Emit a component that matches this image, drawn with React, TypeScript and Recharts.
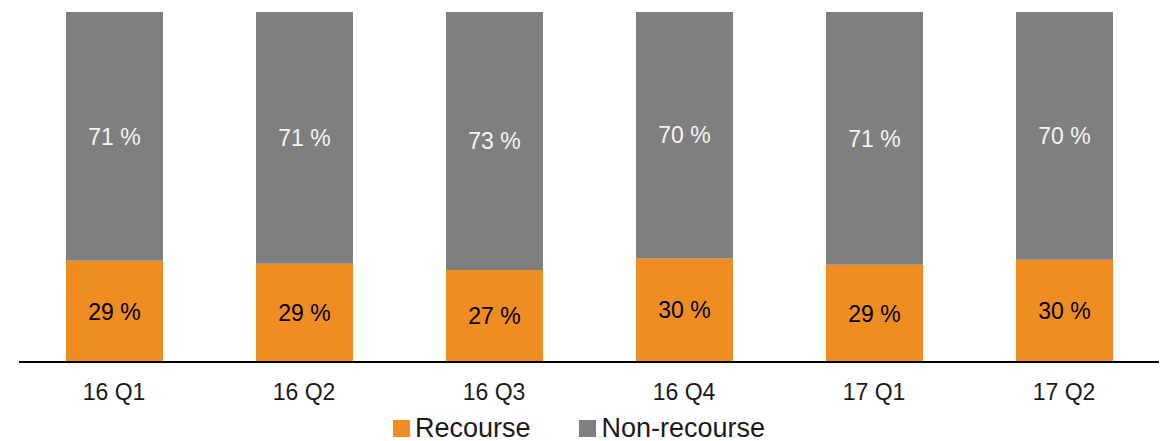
import { Bar, BarChart, LabelList, Legend, XAxis, YAxis } from 'recharts'

const quarters = ['16 Q1', '16 Q2', '16 Q3', '16 Q4', '17 Q1', '17 Q2']
const recourse = [28.9, 28.1, 26.3, 29.6, 27.8, 29.2]
const nonRecourse = [71.1, 71.9, 73.7, 70.4, 72.2, 70.8]
const recourseLabels = ['29 %', '29 %', '27 %', '30 %', '29 %', '30 %']
const nonRecourseLabels = ['71 %', '71 %', '73 %', '70 %', '71 %', '70 %']
const seriesNames = ['Recourse', 'Non-recourse']

const ORANGE = '#f08d22'
const GREY = '#7f7f7f'
const FONT = '"Liberation Sans", Arial, sans-serif'
const seriesColors = [ORANGE, GREY]

const data = quarters.map((q, i) => ({
  quarter: q,
  recourse: recourse[i],
  nonRecourse: nonRecourse[i],
  rLabel: recourseLabels[i],
  nLabel: nonRecourseLabels[i],
}))

function LegendBox() {
  return (
    <div style={{ display: 'flex', justifyContent: 'center', alignItems: 'center', gap: 49, height: 30, marginTop: 2, fontSize: 27, color: '#1a1a1a', fontFamily: FONT, marginLeft: -20 }}>
      {seriesNames.map((n, i) => (
        <span key={n} style={{ display: 'flex', alignItems: 'center', gap: 5 }}>
          <span style={{ width: 17, height: 17, background: seriesColors[i], display: 'inline-block' }} />
          {n}
        </span>
      ))}
    </div>
  )
}

export default function App() {
  return (
    <div style={{ position: 'absolute', left: 0, top: 0, fontFamily: FONT }}>
      <BarChart width={1167} height={441} data={data} margin={{ top: 12, right: 8, bottom: 0, left: 19 }}>
        <XAxis
          dataKey="quarter"
          height={49}
          tickLine={false}
          axisLine={{ stroke: '#000', strokeWidth: 2 }}
          tick={{ fill: '#1a1a1a', fontSize: 23, fontFamily: FONT }}
          tickMargin={16}
        />
        <YAxis hide domain={[0, 100]} />
        <Legend verticalAlign="bottom" height={30} content={() => <LegendBox />} wrapperStyle={{ height: 30, overflow: 'visible' }} />
        <Bar dataKey="recourse" name="Recourse" stackId="a" fill={ORANGE} barSize={97} isAnimationActive={false}>
          <LabelList dataKey="rLabel" position="center" fill="#000" fontSize={23} fontFamily={FONT} />
        </Bar>
        <Bar dataKey="nonRecourse" name="Non-recourse" stackId="a" fill={GREY} barSize={97} isAnimationActive={false}>
          <LabelList dataKey="nLabel" position="center" fill="#f4f4f4" fontSize={23} fontFamily={FONT} />
        </Bar>
      </BarChart>
    </div>
  )
}
